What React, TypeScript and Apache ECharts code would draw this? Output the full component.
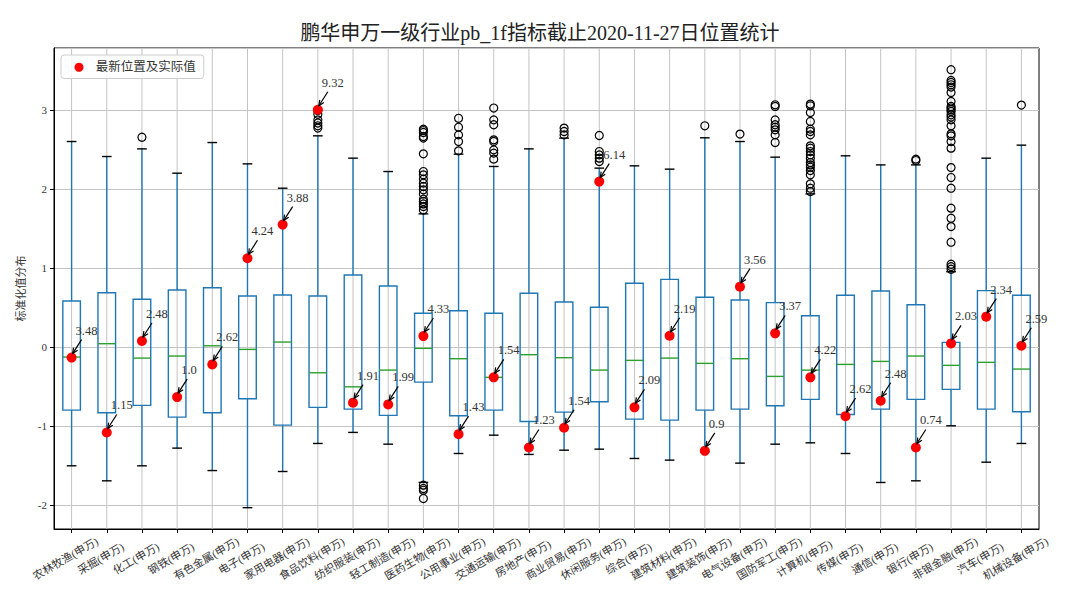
import { useEffect, useRef } from 'react';
import * as echarts from 'echarts';

const categories = ['农林牧渔(申万)', '采掘(申万)', '化工(申万)', '钢铁(申万)', '有色金属(申万)', '电子(申万)', '家用电器(申万)', '食品饮料(申万)', '纺织服装(申万)', '轻工制造(申万)', '医药生物(申万)', '公用事业(申万)', '交通运输(申万)', '房地产(申万)', '商业贸易(申万)', '休闲服务(申万)', '综合(申万)', '建筑材料(申万)', '建筑装饰(申万)', '电气设备(申万)', '国防军工(申万)', '计算机(申万)', '传媒(申万)', '通信(申万)', '银行(申万)', '非银金融(申万)', '汽车(申万)', '机械设备(申万)'];

const whiskerLow = [-1.50, -1.69, -1.50, -1.276, -1.56, -2.03, -1.572, -1.217, -1.077, -1.226, -1.71, -1.344, -1.112, -1.356, -1.302, -1.289, -1.407, -1.428, -1.32, -1.466, -1.226, -1.209, -1.344, -1.711, -1.69, -0.993, -1.454, -1.217];
const q1 = [-0.795, -0.829, -0.735, -0.883, -0.829, -0.651, -0.985, -0.76, -0.782, -0.862, -0.44, -0.867, -0.795, -0.938, -0.82, -0.689, -0.909, -0.921, -0.795, -0.782, -0.74, -0.659, -0.85, -0.782, -0.659, -0.532, -0.782, -0.816];
const median = [-0.123, 0.046, -0.136, -0.110, 0.02, -0.026, 0.067, -0.322, -0.50, -0.288, -0.013, -0.144, -0.38, -0.093, -0.131, -0.288, -0.165, -0.136, -0.203, -0.144, -0.368, -0.288, -0.216, -0.178, -0.11, -0.228, -0.19, -0.275];
const q3 = [0.587, 0.692, 0.608, 0.726, 0.755, 0.65, 0.663, 0.65, 0.916, 0.777, 0.431, 0.464, 0.431, 0.684, 0.574, 0.507, 0.811, 0.86, 0.634, 0.60, 0.566, 0.40, 0.659, 0.714, 0.54, 0.063, 0.718, 0.659];
const whiskerHigh = [2.606, 2.416, 2.513, 2.205, 2.593, 2.323, 2.015, 2.678, 2.395, 2.226, 1.69, 2.446, 2.29, 2.513, 2.649, 2.269, 2.298, 2.256, 2.653, 2.606, 2.408, 1.943, 2.425, 2.31, 2.31, 0.958, 2.395, 2.56];

// outliers: [category index, value]
const outliers: number[][] = [
  [2, 2.66],
  [7, 2.776], [7, 2.805], [7, 2.84], [7, 2.88], [7, 2.95], [7, 3.0],
  [10, 2.763], [10, 2.745], [10, 2.72], [10, 2.669], [10, 2.649], [10, 2.45], [10, 2.226], [10, 2.184], [10, 2.13], [10, 2.079], [10, 2.036], [10, 1.994], [10, 1.943], [10, 1.876], [10, 1.846], [10, 1.816], [10, 1.782], [10, 1.74],
  [10, -1.745], [10, -1.787], [10, -1.81], [10, -1.914],
  [11, 2.90], [11, 2.788], [11, 2.69], [11, 2.606], [11, 2.488],
  [12, 3.03], [12, 2.88], [12, 2.818], [12, 2.627], [12, 2.606], [12, 2.50], [12, 2.459], [12, 2.383],
  [14, 2.776], [14, 2.733], [14, 2.69],
  [15, 2.682], [15, 2.479], [15, 2.437], [15, 2.395], [15, 2.353],
  [18, 2.805],
  [19, 2.70],
  [20, 3.071], [20, 3.05], [20, 2.88], [20, 2.818], [20, 2.788], [20, 2.754], [20, 2.69], [20, 2.593],
  [21, 3.08], [21, 3.058], [21, 2.973], [21, 2.86], [21, 2.763], [21, 2.733], [21, 2.69], [21, 2.551], [21, 2.522], [21, 2.479], [21, 2.437], [21, 2.395], [21, 2.34], [21, 2.31], [21, 2.281], [21, 2.238], [21, 2.184], [21, 2.07], [21, 2.015], [21, 1.972],
  [24, 2.383], [24, 2.365],
  [25, 3.515], [25, 3.379], [25, 3.354], [25, 3.324], [25, 3.295], [25, 3.227], [25, 3.113], [25, 3.05], [25, 3.03], [25, 3.008], [25, 2.986], [25, 2.944], [25, 2.915], [25, 2.88], [25, 2.805], [25, 2.703], [25, 2.678], [25, 2.606], [25, 2.522], [25, 2.276], [25, 2.15], [25, 2.015], [25, 1.762], [25, 1.635], [25, 1.529], [25, 1.331], [25, 1.052], [25, 1.022], [25, 0.989],
  [27, 3.067],
];

const latestPos = [-0.13, -1.078, 0.08, -0.63, -0.216, 1.128, 1.554, 3.008, -0.70, -0.723, 0.143, -1.099, -0.38, -1.268, -1.018, 2.099, -0.76, 0.147, -1.31, 0.768, 0.177, -0.38, -0.871, -0.676, -1.268, 0.05, 0.388, 0.02];
const latestLabels = ['3.48', '1.15', '2.48', '1.0', '2.62', '4.24', '3.88', '9.32', '1.91', '1.99', '4.33', '1.43', '1.54', '1.23', '1.54', '6.14', '2.09', '2.19', '0.9', '3.56', '3.37', '4.22', '2.62', '2.48', '0.74', '2.03', '2.34', '2.59'];

const yMin = -2.3;
const yMax = 3.79;

const SERIF = "'Liberation Serif', 'DejaVu Serif', 'Noto Sans CJK SC', serif";

export default function App() {
  const ref = useRef<HTMLDivElement>(null);

  useEffect(() => {
    if (!ref.current) return;
    const chart = echarts.init(ref.current, null, { renderer: 'svg' });

    const boxData = categories.map((_, i) => [i, whiskerLow[i], q1[i], median[i], q3[i], whiskerHigh[i]]);
    const gridData = categories.map((_, i) => [i, 0]);
    const latestData = categories.map((_, i) => [i, latestPos[i]]);

    const option: any = {
      animation: false,
      backgroundColor: '#fff',
      title: {
        text: '鹏华申万一级行业pb_1f指标截止2020-11-27日位置统计',
        left: 'center',
        top: 18,
        textStyle: { fontSize: 20, fontWeight: 'normal', color: '#222', fontFamily: SERIF },
      },
      legend: {
        data: ['最新位置及实际值'],
        left: 61,
        top: 55,
        orient: 'horizontal',
        icon: 'circle',
        itemWidth: 23.5,
        itemHeight: 9,
        padding: [6, 8, 5, 13.5],
        borderColor: '#cccccc',
        borderWidth: 1,
        borderRadius: 3,
        backgroundColor: 'rgba(255,255,255,0.85)',
        textStyle: { fontSize: 12.5, color: '#333', fontFamily: SERIF },
        selectedMode: false,
      },
      grid: {
        left: 54,
        right: 41,
        top: 48,
        bottom: 65,
        show: true,
        borderColor: '#000',
        borderWidth: 1,
        backgroundColor: 'transparent',
        outerBoundsMode: 'none',
      },
      xAxis: {
        type: 'category',
        data: categories,
        boundaryGap: true,
        axisLine: { show: true, onZero: false, lineStyle: { color: '#000', width: 1 } },
        axisTick: { show: true, alignWithLabel: true, length: 4, lineStyle: { color: '#000' } },
        axisLabel: {
          interval: 0,
          rotate: 30,
          align: 'center',
          verticalAlign: 'middle',
          margin: 26,
          padding: [0, 14, 0, 0],
          fontSize: 11,
          color: '#333',
          fontFamily: SERIF,
        },
        splitLine: { show: false },
      },
      yAxis: {
        type: 'value',
        min: yMin,
        max: yMax,
        name: '标准化值分布',
        nameLocation: 'middle',
        nameGap: 28,
        nameRotate: 90,
        nameTextStyle: { fontSize: 11, color: '#333', fontFamily: SERIF },
        axisLine: { show: true, lineStyle: { color: '#000', width: 1 } },
        axisTick: { show: true, length: 4, lineStyle: { color: '#000' } },
        axisLabel: { showMinLabel: false, showMaxLabel: false, fontSize: 11, color: '#333', fontFamily: SERIF, margin: 7 },
        splitLine: { show: true, lineStyle: { color: '#c4c4c4', width: 1 } },
      },
      series: [
        {
          name: 'vgrid',
          type: 'custom',
          z: 1,
          silent: true,
          data: gridData,
          encode: { x: 0 },
          renderItem: (params: any, api: any) => {
            const p = api.coord([api.value(0), 0]);
            const cs = params.coordSys;
            return {
              type: 'line',
              shape: { x1: p[0], y1: cs.y, x2: p[0], y2: cs.y + cs.height },
              style: { stroke: '#c4c4c4', lineWidth: 1 },
            };
          },
        },
        {
          name: 'box',
          type: 'custom',
          z: 3,
          data: boxData,
          encode: { x: 0, y: [1, 2, 3, 4, 5] },
          renderItem: (params: any, api: any) => {
            const i = api.value(0);
            const pLo = api.coord([i, api.value(1)]);
            const pQ1 = api.coord([i, api.value(2)]);
            const pMed = api.coord([i, api.value(3)]);
            const pQ3 = api.coord([i, api.value(4)]);
            const pHi = api.coord([i, api.value(5)]);
            const band = api.size([1, 0])[0];
            const bw = band * 0.5;
            const cw = bw * 0.55;
            const x = pQ1[0];
            const blue = { stroke: '#1f77b4', lineWidth: 1.4, fill: 'none' };
            const black = { stroke: '#000', lineWidth: 1.4 };
            return {
              type: 'group',
              children: [
                { type: 'line', shape: { x1: x, y1: pQ1[1], x2: x, y2: pLo[1] }, style: blue },
                { type: 'line', shape: { x1: x, y1: pQ3[1], x2: x, y2: pHi[1] }, style: blue },
                { type: 'rect', shape: { x: x - bw / 2, y: pQ3[1], width: bw, height: pQ1[1] - pQ3[1] }, style: blue },
                { type: 'line', shape: { x1: x - bw / 2, y1: pMed[1], x2: x + bw / 2, y2: pMed[1] }, style: { stroke: '#2ca02c', lineWidth: 1.4 } },
                { type: 'line', shape: { x1: x - cw / 2, y1: pLo[1], x2: x + cw / 2, y2: pLo[1] }, style: black },
                { type: 'line', shape: { x1: x - cw / 2, y1: pHi[1], x2: x + cw / 2, y2: pHi[1] }, style: black },
              ],
            };
          },
        },
        {
          name: 'outliers',
          type: 'scatter',
          z: 4,
          data: outliers,
          symbol: 'circle',
          symbolSize: 8,
          itemStyle: { color: 'rgba(0,0,0,0)', borderColor: '#000', borderWidth: 1.2, opacity: 1 },
          silent: true,
        },
        {
          name: '最新位置及实际值',
          type: 'scatter',
          z: 5,
          data: latestData,
          symbol: 'circle',
          symbolSize: 10,
          itemStyle: { color: '#ff0000', opacity: 1 },
        },
        {
          name: 'annot',
          type: 'custom',
          z: 6,
          silent: true,
          data: latestData,
          encode: { x: 0, y: 1 },
          renderItem: (params: any, api: any) => {
            const p = api.coord([api.value(0), api.value(1)]);
            const tail = [p[0] + 10, p[1] - 18];
            const tip = [p[0] + 1, p[1] - 4];
            const ang = Math.atan2(tip[1] - tail[1], tip[0] - tail[0]);
            const L = 6;
            const a = 0.42;
            const h1 = [tip[0] - L * Math.cos(ang - a), tip[1] - L * Math.sin(ang - a)];
            const h2 = [tip[0] - L * Math.cos(ang + a), tip[1] - L * Math.sin(ang + a)];
            return {
              type: 'group',
              children: [
                { type: 'line', shape: { x1: tail[0], y1: tail[1], x2: tip[0], y2: tip[1] }, style: { stroke: '#000', lineWidth: 1.2 } },
                { type: 'polyline', shape: { points: [h1, tip, h2] }, style: { stroke: '#000', lineWidth: 1.2, fill: 'none' } },
                {
                  type: 'text',
                  x: p[0] + 4,
                  y: p[1] - 27,
                  style: {
                    text: latestLabels[params.dataIndex],
                    fill: '#333',
                    fontSize: 12.5,
                    fontFamily: SERIF,
                    align: 'left',
                    verticalAlign: 'middle',
                  },
                },
              ],
            };
          },
        },
      ],
    };

    chart.setOption(option);
    return () => chart.dispose();
  }, []);

  return <div ref={ref} style={{ position: 'fixed', left: 0, top: 0, width: 1080, height: 594 }} />;
}
